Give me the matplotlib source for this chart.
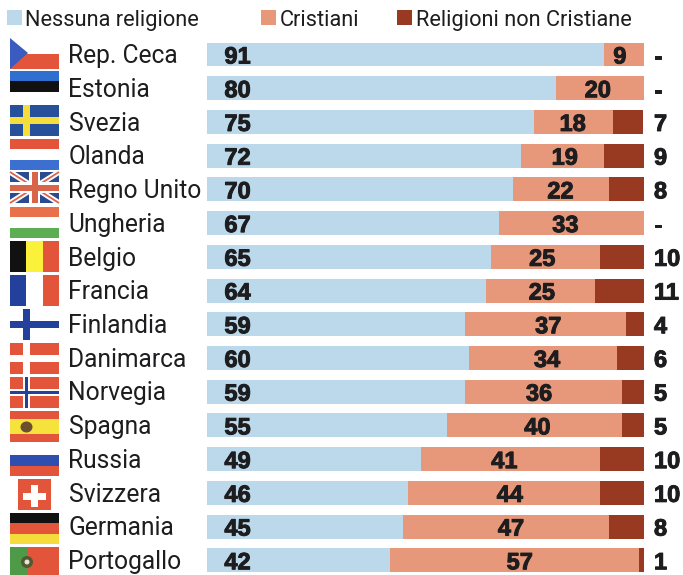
import matplotlib
matplotlib.use("Agg")
import matplotlib.pyplot as plt
import matplotlib.patheffects as pe
from matplotlib.patches import Rectangle, Polygon, Circle, Ellipse

countries = ["Rep. Ceca", "Estonia", "Svezia", "Olanda", "Regno Unito", "Ungheria", "Belgio", "Francia",
             "Finlandia", "Danimarca", "Norvegia", "Spagna", "Russia", "Svizzera", "Germania", "Portogallo"]
none_rel = [91, 80, 75, 72, 70, 67, 65, 64, 59, 60, 59, 55, 49, 46, 45, 42]
christian = [9, 20, 18, 19, 22, 33, 25, 25, 37, 34, 36, 40, 41, 44, 47, 57]
other_rel = [0, 0, 7, 9, 8, 0, 10, 11, 4, 6, 5, 5, 10, 10, 8, 1]
legend_labels = ["Nessuna religione", "Cristiani", "Religioni non Cristiane"]
# Horizontal shift of the middle labels, in pixels, away from the segment centre
mid_label_shift = [-4, -2, -1, 2, 0, -6, -3, 1, 3, 4, -4, 3, -6, 6, 5, 5]

W, H = 683, 575
BLUE, SALMON, DARK = "#BBD9EA", "#E8987A", "#983A22"
INK = "#1d1d1f"
LABEL_FONT = "Roboto"
NUM_FONT = "Liberation Sans"
NUM_SIZE = 17

fig = plt.figure(figsize=(W / 100, H / 100), dpi=100, facecolor="white")

# Overlay in pixel coordinates for flags, country names and the legend
px = fig.add_axes([0, 0, 1, 1])
px.set_xlim(0, W)
px.set_ylim(H, 0)
px.axis("off")

# Stacked bars on a 0-100 scale, one row per country
ax = fig.add_axes([207 / W, 0, 436.5 / W, 1])
row_step, first_row = 33.72, 54.5
per_unit = 436.5 / 100
ax.set_xlim(0, 100)
ax.set_ylim((H - first_row) / row_step, -first_row / row_step)
ax.axis("off")
rows = range(len(countries))
ax.barh(rows, none_rel, height=0.71, color=BLUE)
ax.barh(rows, christian, left=none_rel, height=0.71, color=SALMON)
ax.barh(rows, other_rel, left=[a + b for a, b in zip(none_rel, christian)], height=0.71, color=DARK)

# Thicken the bold numerals with a thin outline of their own colour
heavy = [pe.withStroke(linewidth=0.7, foreground=INK)]
for i in rows:
    num = dict(va="center_baseline", fontsize=NUM_SIZE, fontweight="bold", family=NUM_FONT, color=INK,
               path_effects=heavy)
    ax.text(7, i, str(none_rel[i]), ha="center", **num)
    ax.text(none_rel[i] + christian[i] / 2 + mid_label_shift[i] / per_unit, i, str(christian[i]),
            ha="center", **num)
    third = str(other_rel[i]) if other_rel[i] else "-"
    ax.text(102.4, i, third, ha="left", **num)
    px.text(68.5, first_row - 0.8 + i * row_step, countries[i], ha="left", va="center_baseline",
            fontsize=17.7, family=LABEL_FONT, color=INK)

# Legend row
for x0, col, tx, lab in zip([7, 261, 397], [BLUE, SALMON, DARK], [25, 280, 416], legend_labels):
    px.add_patch(Rectangle((x0, 10), 15, 15, color=col, lw=0))
    px.text(tx, 18, lab, ha="left", va="center_baseline", fontsize=15.7, family=LABEL_FONT, color=INK)


def rect(x, y, w, h, c, z=2):
    px.add_patch(Rectangle((x, y), w, h, facecolor=c, edgecolor="none", zorder=z))


def hbands(y, cols, hs=None, x=10, w=49, total=31):
    hs = hs or [total / len(cols)] * len(cols)
    for c, h in zip(cols, hs):
        rect(x, y, w, h, c)
        y += h


def vbands(y, cols):
    for k, c in enumerate(cols):
        rect(10 + k * 49 / 3, y, 49 / 3, 31, c)


def nordic(y, bg, cross, inner=None):
    rect(10, y, 49, 31, bg)
    rect(23, y, 7, 31, cross)
    rect(10, y + 12, 49, 7, cross)
    if inner:
        rect(25, y, 3, 31, inner)
        rect(10, y + 14, 49, 3, inner)


RED = "#E2553A"

# Czech Republic
hbands(38, ["#ffffff", RED])
px.add_patch(Polygon([(10, 38), (28, 53), (10, 69)], color="#3A5BC0", lw=0, zorder=3))
# Estonia, Sweden, Netherlands, United Kingdom, Hungary
hbands(71, ["#2F6FD0", "#111111", "#ffffff"])
nordic(105, "#27509A", "#F5DE3B")
hbands(139, [RED, "#ffffff", "#3B6FD0"])
rect(10, 172, 49, 31, "#2C4A90")
for a, b in [((10, 172), (59, 203)), ((10, 203), (59, 172))]:
    px.plot(*zip(a, b), color="white", lw=4, zorder=3, solid_capstyle="butt")
    px.plot(*zip(a, b), color="#D8654A", lw=1.3, zorder=3, solid_capstyle="butt")
rect(29, 172, 11, 31, "white", 4); rect(10, 182, 49, 11, "white", 4)
rect(31.5, 172, 6, 31, "#D8654A", 4); rect(10, 184.5, 49, 6, "#D8654A", 4)
hbands(207, ["#E8704A", "#ffffff", "#5DAE52"])
# Belgium, France
vbands(241, ["#111111", "#FBF03A", RED])
vbands(275, ["#23409C", "#ffffff", RED])
# Finland, Denmark, Norway
nordic(309, "#ffffff", "#23409C")
nordic(343, RED, "#ffffff")
nordic(377, RED, "#ffffff", "#23409C")
# Spain
hbands(411, [RED, "#F6E23C", RED], [8, 15, 8])
px.add_patch(Ellipse((26.5, 427), 12, 11, color="#6B5030", lw=0, zorder=3))
# Russia
hbands(445, ["#ffffff", "#2F4FB0", RED])
# Switzerland
rect(18, 479, 33, 31, RED)
rect(31, 485, 7, 22, "white", 3); rect(23, 492.5, 23, 7, "white", 3)
# Germany
hbands(513, ["#111111", RED, "#F4DC3C"])
# Portugal, running off the lower edge
rect(10, 547, 18, 28, "#4E9A48"); rect(28, 547, 31, 28, RED)
px.add_patch(Circle((27, 562), 6, color="#4F5A30", lw=0, zorder=3))
px.add_patch(Circle((27, 562), 2.5, color="#E8E4D8", lw=0, zorder=4))

fig.savefig("out.png", dpi=100)
